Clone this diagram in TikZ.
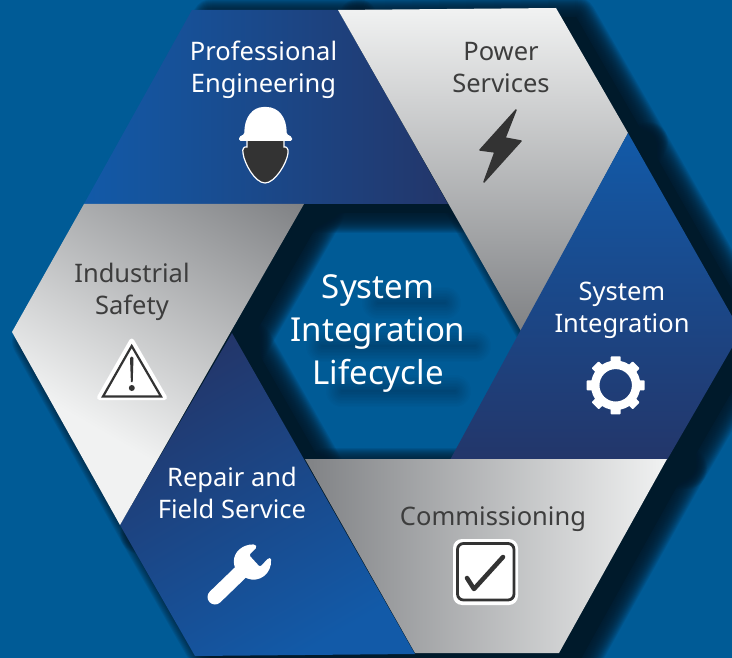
\documentclass[tikz,border=0pt]{standalone}
\usepackage{fontspec}
\setmainfont{Noto Sans}
\definecolor{bgblue}{HTML}{005B96}
\definecolor{shadowc}{HTML}{001A2B}
\definecolor{blueL}{HTML}{125AA8}
\definecolor{blueM}{HTML}{14509A}
\definecolor{blueD}{HTML}{23366A}
\definecolor{greyD}{HTML}{808285}
\definecolor{greyM}{HTML}{C6C8C9}
\definecolor{greyL}{HTML}{F1F2F2}
\definecolor{ink}{HTML}{333333}
\pgfdeclareverticalshading{safetyshade}{100bp}{color(0bp)=(greyL); color(36bp)=(greyL); color(84bp)=(greyD); color(100bp)=(greyD)}
\tikzset{
  whitelabel/.style={text=white,align=center,font=\fontsize{25.5}{32}\selectfont,inner sep=0pt},
  darklabel/.style={text=ink!95!white,align=center,font=\fontsize{25.5}{32}\selectfont,inner sep=0pt},
  centerlabel/.style={text=white,align=center,font=\fontsize{33}{43}\selectfont,inner sep=0pt},
  softedge/.style={draw=shadowc,draw opacity=.11,line join=round},
}
\def\PathA{(192,10) -- (338,10) -- (448,204) -- (84,204) -- cycle}
\def\PathB{(338,10) -- (556,8) -- (628,133) -- (521,331) -- cycle}
\def\PathC{(628,133) -- (741,332) -- (667,460) -- (450,460) -- cycle}
\def\PathD{(305,459) -- (667,459) -- (559,653) -- (415,653) -- cycle}
\def\PathE{(232,333) -- (415,654) -- (195,656) -- (120,525) -- cycle}
\def\PathF{(84,204) -- (304,204) -- (120,525) -- (12,332) -- cycle}
\newcommand{\softshadow}[1]{%
  \begin{scope}[shift={(20,9)}]
    \fill[shadowc] #1;
    \foreach \w in {2,4,...,40}{\draw[softedge,line width=\w pt] #1;}
  \end{scope}}
\newcommand{\softbar}[3]{%
  \foreach \w in {2,5,...,32}{\draw[shadowc,opacity=.028,line width=\w pt,line cap=round] (#1,#3) -- (#2,#3);}}
\begin{document}
\begin{tikzpicture}[x=1pt,y=-1pt]
\useasboundingbox (0,0) rectangle (732,658);
\clip (0,0) rectangle (732,658);
\fill[bgblue] (0,0) rectangle (732,658);
% drop shadows
\softshadow{\PathA}
\softshadow{\PathB}
\softshadow{\PathC}
\softshadow{\PathD}
\softshadow{\PathE}
\softshadow{\PathF}
% shadow of the central title
\softbar{378}{445}{303}
\softbar{322}{475}{346}
\softbar{342}{455}{391}
% panels
\shade[left color=blueL,right color=blueD] \PathA;
\shade[top color=greyL,bottom color=greyD] \PathB;
\shade[top color=blueL,middle color=blueM,bottom color=blueD] \PathC;
\shade[left color=greyD,middle color=greyM,right color=greyL] \PathD;
\shade[top color=blueD,bottom color=blueL,shading angle=30] \PathE;
\shade[shading=safetyshade,shading angle=-30] \PathF;
% labels
\node[whitelabel] (pe) at (263.5,70) {Professional\\Engineering};
\node[darklabel] (ps) at (501,68) {Power\\Services};
\node[whitelabel] (si) at (622,310) {System\\Integration};
\node[darklabel] (cm) at (493,519) {Commissioning};
\node[whitelabel] (rf) at (232,493) {Repair and\\Field Service};
\node[darklabel] (is) at (132,292) {Industrial\\Safety};
\node[centerlabel] (ct) at (378,334) {System\\Integration\\Lifecycle};
% helmet icon
\draw[fill=ink,draw=white,line width=1.2pt] (247,140) -- (247,147) .. controls (244,146) and (242,149) .. (243,153)
  .. controls (244,163) and (255,183) .. (265,183) .. controls (275,183) and (287,163) .. (288,153)
  .. controls (289,149) and (286,146) .. (284,147) -- (284,140) -- cycle;
\fill[white,rounded corners=1.5pt] (239,141) -- (239,137) -- (244.5,134) .. controls (244,117) and (253,107) .. (265,107)
  .. controls (278,107) and (287,117) .. (286.5,134) -- (292,137) -- (292,141) -- cycle;
% bolt icon
\fill[ink,draw=ink,line width=1.5pt,line join=round] (516,110) -- (480,150) -- (495,152) -- (484,182) -- (521,141) -- (505,138) -- cycle;
% gear icon
\draw[white,line width=8.5pt] (615.7,385.3) circle[radius=20.5];
\foreach \a in {0,45,...,315}{
  \fill[white,rotate around={\a:(615.7,385.3)},rounded corners=.8pt] (610.7,362) rectangle (620.7,356.3);
  \fill[white,rotate around={\a:(615.7,385.3)}] (611,364) rectangle (620.4,360);
}
% warning icon
\fill[white,draw=white,line width=5pt,line join=round] (131.7,341) -- (99.5,397.5) -- (164.5,397.5) -- cycle;
\draw[ink,line width=2.2pt,line join=miter] (131.7,346) -- (103,396.5) -- (161,396.5) -- cycle;
\fill[ink] (130,358) .. controls (130,356) and (133.5,356) .. (133.5,358) -- (132.7,382) -- (130.9,382) -- cycle;
\fill[ink] (131.8,388) circle[radius=3];
% wrench icon
\draw[white,line width=15pt,line cap=round] (215,597) -- (244,569);
\fill[white,rounded corners=1.5pt] (255,544.5) .. controls (243,544) and (233,552) .. (234,564) -- (236,572) -- (246,578)
  .. controls (259,583) and (272,574) .. (271,558) -- (268.5,558) -- (260,567) -- (249,555) -- (257,547) -- cycle;
% check box icon
\fill[white,rounded corners=9pt] (453,539) rectangle (518,605);
\draw[ink,line width=2.8pt,rounded corners=6pt] (457.5,543.5) rectangle (514,600);
\draw[ink,line width=4.5pt,line cap=round,line join=round] (467,578) -- (474,589) -- (503,557);
\end{tikzpicture}
\end{document}
